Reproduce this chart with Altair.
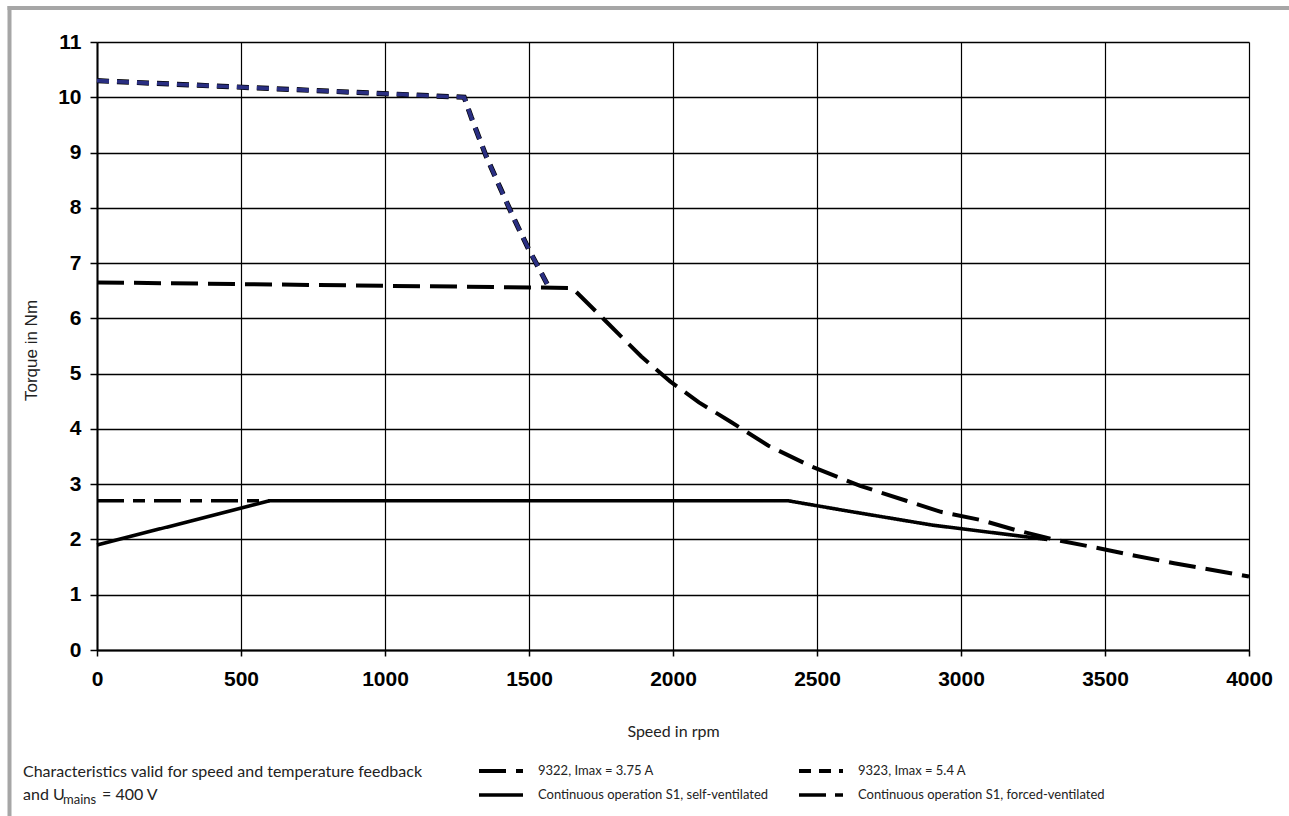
import altair as alt
import pandas as pd

# ---------------- data ----------------
s9322_speed = [0, 1650, 1780, 1890, 1990, 2090, 2200, 2330, 2480, 2650, 2810, 2930, 3070, 3190, 3330, 3470, 3600, 3740, 4000]
s9322_torque = [6.65, 6.55, 5.88, 5.31, 4.86, 4.48, 4.13, 3.70, 3.32, 2.97, 2.70, 2.50, 2.35, 2.17, 1.99, 1.85, 1.71, 1.57, 1.33]

s9323_speed = [0, 1275, 1300, 1350, 1400, 1450, 1500, 1545, 1570]
s9323_torque = [10.3, 10.0, 9.63, 8.95, 8.36, 7.78, 7.24, 6.80, 6.55]

s1_self_speed = [0, 600, 2400, 2600, 2900, 3300]
s1_self_torque = [1.9, 2.7, 2.7, 2.52, 2.26, 2.0]

s1_forced_speed = [0, 600]
s1_forced_torque = [2.7, 2.7]

series_names = [
    "9322, Imax = 3.75 A",
    "9323, Imax = 5.4 A",
    "Continuous operation S1, self-ventilated",
    "Continuous operation S1, forced-ventilated",
]
x_ticks = [0, 500, 1000, 1500, 2000, 2500, 3000, 3500, 4000]
y_ticks = [0, 1, 2, 3, 4, 5, 6, 7, 8, 9, 10, 11]

x_title = "Speed in rpm"
y_title = "Torque in Nm"
note_line1 = "Characteristics valid for speed and temperature feedback"
note_line2_a = "and U"
note_line2_sub = "mains"
note_line2_b = "= 400 V"

# ---------------- table ----------------
rows = []
for name, xs, ys in [
    (series_names[0], s9322_speed, s9322_torque),
    (series_names[1], s9323_speed, s9323_torque),
    (series_names[2], s1_self_speed, s1_self_torque),
    (series_names[3], s1_forced_speed, s1_forced_torque),
]:
    for i, (sx, ty) in enumerate(zip(xs, ys)):
        rows.append({"speed": sx, "torque": ty, "series": name, "idx": i})
df = pd.DataFrame(rows)

NAVY = "#2a2f82"
FOOT_FONT = "Lato"
TICK_FONT = "Liberation Sans"
DASHES = [[27, 10], [12, 8], [1, 0], [27, 9, 12, 9]]

x_enc = alt.X(
    "speed:Q",
    scale=alt.Scale(domain=[0, 4000], nice=False, zero=False),
    axis=alt.Axis(
        values=x_ticks, format="d", title=x_title,
        grid=True, gridColor="#000000", gridWidth=1.2, gridOpacity=1,
        domain=True, domainColor="#000000", domainWidth=2,
        ticks=True, tickSize=6, tickWidth=1.5, tickColor="#000000",
        labelFont=TICK_FONT, labelFontSize=21, labelFontWeight="bold", labelColor="#000000",
        labelPadding=12, labelFlush=False,
        titleFont=FOOT_FONT, titleFontSize=16, titleFontWeight="normal", titleColor="#222222",
        titleX=576, titleY=81, titleAlign="center", titleBaseline="middle",
    ),
)
y_enc = alt.Y(
    "torque:Q",
    scale=alt.Scale(domain=[0, 11], nice=False, zero=False),
    axis=alt.Axis(
        values=y_ticks, format="d", title=y_title,
        grid=True, gridColor="#000000", gridWidth=1.6, gridOpacity=1,
        domain=True, domainColor="#000000", domainWidth=2,
        ticks=True, tickSize=7, tickWidth=1.5, tickColor="#000000",
        labelFont=TICK_FONT, labelFontSize=21, labelFontWeight="bold", labelColor="#000000",
        labelPadding=9, labelFlush=False,
        titleFont=TICK_FONT, titleFontSize=17, titleFontWeight="normal", titleColor="#222222",
        titleX=-66, titleY=308, titleAngle=270, titleAlign="center", titleBaseline="middle",
    ),
)

# dark outline beneath the navy 9323 dashes
outline_9323 = alt.Chart(df).transform_filter(
    alt.datum.series == series_names[1]
).mark_line(strokeCap="butt", strokeJoin="miter", color="#000000", strokeWidth=5.2,
            strokeDash=DASHES[1]).encode(
    x=alt.X("speed:Q"), y=alt.Y("torque:Q"), order="idx:Q"
)

lines = alt.Chart(df).mark_line(strokeCap="butt", strokeJoin="miter").encode(
    x=x_enc,
    y=y_enc,
    strokeDash=alt.StrokeDash(
        "series:N",
        scale=alt.Scale(domain=series_names, range=DASHES),
        legend=alt.Legend(
            title=None, orient="none", legendX=380, legendY=721, columns=2, direction="horizontal",
            symbolType="stroke", symbolSize=1936, symbolStrokeWidth=4, symbolStrokeColor="#000000",
            labelFont=FOOT_FONT, labelFontSize=13, labelColor="#222222", labelOffset=13,
            labelLimit=500, columnPadding=28, rowPadding=8, padding=0, clipHeight=16,
        ),
    ),
    color=alt.condition(alt.datum.series == series_names[1], alt.value(NAVY), alt.value("#000000")),
    strokeWidth=alt.StrokeWidth(
        "series:N", scale=alt.Scale(domain=series_names, range=[4, 3.4, 3.2, 4]), legend=None
    ),
    order="idx:Q",
)

one = pd.DataFrame({"k": [0]})

frame_left = alt.Chart(one).mark_rule(color="#a6a6a6", strokeWidth=4).encode(
    x=alt.value(-87.5), y=alt.value(-36), y2=alt.value(780)
)
frame_top = alt.Chart(one).mark_rule(color="#a6a6a6", strokeWidth=4).encode(
    x=alt.value(-89.5), x2=alt.value(1200), y=alt.value(-34)
)

txt = dict(align="left", baseline="middle", font=FOOT_FONT, color="#222222")
note1 = alt.Chart(one).mark_text(text=note_line1, fontSize=16, **txt).encode(
    x=alt.value(-74), y=alt.value(730)
)
note2a = alt.Chart(one).mark_text(text=note_line2_a, fontSize=16, **txt).encode(
    x=alt.value(-74), y=alt.value(753)
)
note2s = alt.Chart(one).mark_text(text=note_line2_sub, fontSize=13, **txt).encode(
    x=alt.value(-34), y=alt.value(758)
)
note2b = alt.Chart(one).mark_text(text=note_line2_b, fontSize=16, **txt).encode(
    x=alt.value(5), y=alt.value(753)
)

chart = alt.layer(outline_9323, lines, frame_left, frame_top, note1, note2a, note2s, note2b).properties(
    width=1152,
    height=608,
    padding={"left": 97, "top": 42, "right": 40, "bottom": 166},
    autosize=alt.AutoSizeParams(type="none"),
    background="#ffffff",
).configure_view(stroke=None)

chart.save("out.html", embed_options={"renderer": "svg", "actions": False})
